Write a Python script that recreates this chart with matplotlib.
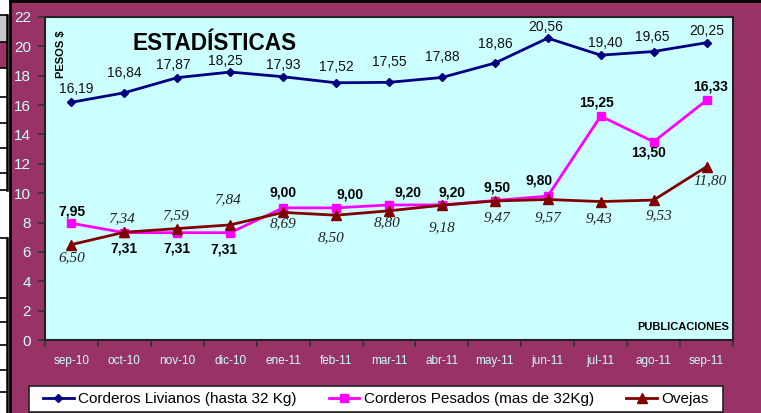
import matplotlib
matplotlib.use("Agg")
import matplotlib.pyplot as plt
from matplotlib.patches import Rectangle
from matplotlib.lines import Line2D

meses = ["sep-10", "oct-10", "nov-10", "dic-10", "ene-11", "feb-11", "mar-11",
         "abr-11", "may-11", "jun-11", "jul-11", "ago-11", "sep-11"]
livianos = [16.19, 16.84, 17.87, 18.25, 17.93, 17.52, 17.55, 17.88, 18.86, 20.56, 19.40, 19.65, 20.25]
pesados = [7.95, 7.31, 7.31, 7.31, 9.00, 9.00, 9.20, 9.20, 9.50, 9.80, 15.25, 13.50, 16.33]
ovejas = [6.50, 7.34, 7.59, 7.84, 8.69, 8.50, 8.80, 9.18, 9.47, 9.57, 9.43, 9.53, 11.80]
y_ticks = list(range(0, 23, 2))

# desplazamiento de las etiquetas (pixeles)
off_liv = [(5, 13), (0, 20), (-4, 13), (-5, 11), (0, 12), (0, 16), (0, 20),
           (0, 20), (0, 19), (-2, 11), (5, 12), (-1, 15), (0, 12)]
off_pes = [(0, 12), (0, -16), (0, -16), (-6, -17), (0, 15), (14, 13), (19, 12),
           (10, 12), (2, 13), (-9, 16), (-4, 14), (-5, -11), (4, 14)]
off_ove = [(0, -13), (-3, 14), (-2, 13), (-3, 25), (0, -11), (-5, -22), (-2, -12),
           (0, -22), (2, -17), (0, -18), (-2, -17), (5, -16), (4, -14)]

BG = "#993366"
PLOT_BG = "#CCFFFF"
W, H = 761, 413

plt.rcParams["font.family"] = ["Liberation Sans", "DejaVu Sans"]

fig = plt.figure(figsize=(W / 100, H / 100), dpi=100, facecolor=BG)

# franja de celdas a la izquierda
fig.patches.append(Rectangle((0, 0), 9.5 / W, 1, transform=fig.transFigure,
                             facecolor="white", edgecolor="none", zorder=0))
fig.patches.append(Rectangle((0, 1 - 42 / H), 7 / W, 27 / H, transform=fig.transFigure,
                             facecolor="#C8C8C8", edgecolor="none", zorder=0))
fig.patches.append(Rectangle((0, 1 - 68 / H), 7 / W, 26 / H, transform=fig.transFigure,
                             facecolor=BG, edgecolor="none", zorder=0))
for yy in [15, 42, 68, 97, 123, 148, 173, 190, 238, 298, 322, 345, 370, 392]:
    fig.lines.append(Line2D([0, 7 / W], [1 - yy / H, 1 - yy / H], transform=fig.transFigure,
                            color="black", lw=1.2))
fig.lines.append(Line2D([7 / W, 7 / W], [1 - 15 / H, 1 - 190 / H], transform=fig.transFigure,
                        color="black", lw=1.8))
fig.lines.append(Line2D([7 / W, 7 / W], [1 - 238 / H, 0], transform=fig.transFigure,
                        color="black", lw=1.8))
# borde del grafico
fig.lines.append(Line2D([10 / W, 10 / W], [0, 1], transform=fig.transFigure, color="black", lw=2))
fig.lines.append(Line2D([10 / W, 1], [1 - 1 / H, 1 - 1 / H], transform=fig.transFigure, color="black", lw=2))

ax = fig.add_axes([45 / W, (H - 340) / H, 688 / W, 323 / H])
ax.set_facecolor(PLOT_BG)
x = list(range(len(meses)))

ax.plot(x, livianos, color="#000080", lw=2, marker="D", ms=4.5, label="Corderos Livianos (hasta 32 Kg)")
ax.plot(x, pesados, color="#FF00FF", lw=2, marker="s", ms=5.5, label="Corderos Pesados (mas de 32Kg)")
ax.plot(x, ovejas, color="#800000", lw=2, marker="^", ms=6.5, label="Ovejas")

for i in x:
    ax.annotate(f"{livianos[i]:.2f}".replace(".", ","), (i, livianos[i]), xytext=off_liv[i],
                textcoords="offset pixels", ha="center", va="center", fontsize=10, color="#111111")
    ax.annotate(f"{pesados[i]:.2f}".replace(".", ","), (i, pesados[i]), xytext=off_pes[i],
                textcoords="offset pixels", ha="center", va="center", fontsize=10,
                fontweight="bold", color="black")
    ax.annotate(f"{ovejas[i]:.2f}".replace(".", ","), (i, ovejas[i]), xytext=off_ove[i],
                textcoords="offset pixels", ha="center", va="center", fontsize=11,
                fontstyle="italic", family=["Liberation Serif", "DejaVu Serif"], color="#222222")

ax.set_xlim(-0.5, len(meses) - 0.5)
ax.set_ylim(0, 22)
ax.set_yticks(y_ticks)
ax.set_xticks(x)
ax.set_xticklabels(meses)
ax.set_xticks([i - 0.5 for i in range(len(meses) + 1)], minor=True)
ax.tick_params(axis="x", which="major", length=0, pad=11, labelsize=8.5, labelcolor=PLOT_BG)
ax.tick_params(axis="x", which="minor", length=5, width=1.2, color="#333333", direction="out")
ax.tick_params(axis="y", length=5, width=1.2, color="#333333", pad=5, labelsize=11, labelcolor=PLOT_BG)
for s in ax.spines.values():
    s.set_color("#222222")
    s.set_linewidth(1.5)

fig.text(215 / W, 1 - 43 / H, "ESTADÍSTICAS", fontsize=16.3, fontweight="bold",
         ha="center", va="center")
ax.text(0.023, 0.885, "PESOS $", transform=ax.transAxes, rotation=90, fontsize=8,
        fontweight="bold", ha="center", va="center")
ax.text(0.995, 0.04, "PUBLICACIONES", transform=ax.transAxes, fontsize=8,
        fontweight="bold", ha="right", va="center")

# leyenda
fig.patches.append(Rectangle((29 / W, 1 / H), 694 / W, 26 / H, transform=fig.transFigure,
                             facecolor="white", edgecolor="#222222", lw=1.2, zorder=1))
fig.legend(loc="center", bbox_to_anchor=(376 / W, (H - 399) / H), ncol=3, frameon=False,
           fontsize=11, handlelength=2.0, handletextpad=0.3, columnspacing=2.1)

fig.savefig("out.png", dpi=100, facecolor=BG)
